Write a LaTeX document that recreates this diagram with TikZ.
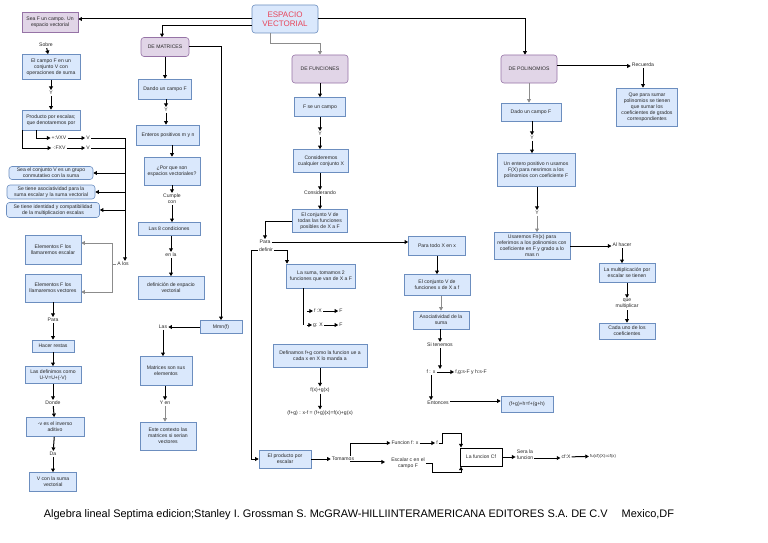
\documentclass[tikz,border=0pt]{standalone}
\usepackage{fontspec}
\setmainfont{Liberation Sans}
\usetikzlibrary{arrows.meta}
\definecolor{pfill}{HTML}{E1D5E7}
\definecolor{pdraw}{HTML}{9673A6}
\definecolor{bfill}{HTML}{DAE8FC}
\definecolor{bdraw}{HTML}{6C8EBF}
\definecolor{redt}{HTML}{E8455A}
\definecolor{glin}{HTML}{8C8C8C}
\begin{document}
\begin{tikzpicture}[x=1pt,y=-1pt,
 every node/.style={font=\fontsize{5.1}{6}\selectfont, inner sep=1pt, align=center, text=black!85},
 bb/.style 2 args={draw=bdraw, fill=bfill, line width=0.6pt, minimum width=#1, minimum height=#2},
 rb/.style 2 args={draw=bdraw, fill=bfill, line width=0.6pt, rounded corners=3pt, minimum width=#1, minimum height=#2},
 pb/.style 2 args={draw=pdraw, fill=pfill, line width=0.6pt, rounded corners=3pt, minimum width=#1, minimum height=#2},
 pr/.style 2 args={draw=pdraw, fill=pfill, line width=0.6pt, minimum width=#1, minimum height=#2},
 lbl/.style={inner sep=1pt},
 arr/.style={draw=black, line width=1pt, -{Triangle[length=3.6pt,width=3.8pt]}},
 garr/.style={draw=glin, line width=1pt, -{Triangle[length=3.6pt,width=3.8pt]}},
 ln/.style={draw=black, line width=1pt},
 gln/.style={draw=glin, line width=1pt}
]
\fill[white] (0,0) rectangle (768,543);
\useasboundingbox (0,0) rectangle (768,543);

% ---------- top ----------
\node[rb={66}{28}, font=\fontsize{8}{9}\selectfont, text=redt] (esp) at (285,19) {ESPACIO\\VECTORIAL};

% ---------- column 1 ----------
\node[pr={56}{20}] (seaF) at (50,22) {Sea F un campo. Un\\espacio vectorial};
\node[lbl] (sobre) at (46,45) {Sobre};
\node[bb={58}{25}] (campoF) at (51,67) {El campo F en un\\conjunto V con\\operaciones de suma};
\node[lbl] (y1) at (51,93) {Y};
\node[bb={58}{20}] (prod) at (51,120) {Producto por escalas;\\que denotaremos por};
\node[lbl] (vxv) at (59,138) {+:VXV};
\node[lbl] (v1) at (88,138) {V};
\node[lbl] (fxv) at (59,148) {·:FXV};
\node[lbl] (v2) at (88,148) {V};
\coordinate (j1) at (125,138);
\node[rb={84}{13}] (grupo) at (51,173) {Sea el conjunto V es un grupo\\conmutativo con la suma};
\node[rb={88}{14}] (asoc1) at (51,192) {Se tiene asociatividad para la\\suma escalar y la suma vectorial};
\node[rb={93}{15}] (ident) at (53,210) {Se tiene identidad y compatibilidad\\de la multiplicacion escalas};
\node[lbl] (alos) at (123,264) {A los};
\coordinate (k1) at (112,264);
\node[bb={56}{29}] (esc) at (53,250) {Elementos F los\\llamaremos escalar};
\node[bb={56}{28}] (vect) at (53,288) {Elementos F los\\llamaremos vectores};
\node[lbl] (para1) at (53,320) {Para};
\node[bb={42}{12}] (hacer) at (53,346) {Hacer restas};
\node[bb={56}{17}] (defin1) at (53,375) {Las definimos como\\U-V=U+(-V)};
\node[lbl] (donde) at (53,403) {Donde};
\node[bb={58}{19}] (inv) at (55,427) {-v es el inverso\\aditivo};
\node[lbl] (da) at (53,454) {Da};
\node[bb={47}{19}] (vcon) at (53,482) {V con la suma\\vectorial};

\draw[arr] (esp.west) -- (esp.west -| seaF.east);
\draw[arr] (sobre) -- (campoF);
\draw[arr] (campoF) -- (y1);
\draw[arr] (y1) -- (prod);
\draw[arr] ([xshift=-15]prod.south) |- (vxv.west);
\draw[arr] ([xshift=-29]prod.south) |- (fxv.west);
\draw[arr] (vxv) -- (v1);
\draw[arr] (fxv) -- (v2);
\draw[ln] (v1.east) -- (v1.east -| j1);
\draw[ln] (v2.east) -- (v2.east -| j1);
\draw[arr] (j1) -- (j1 |- alos.north);
\draw[arr] (grupo.east -| j1) -- (grupo.east);
\draw[arr] (asoc1.east -| j1) -- (asoc1.east);
\draw[arr] (ident.east -| j1) -- (ident.east);
\draw[gln] (alos.west) -- (k1);
\draw[garr] (k1) |- ([yshift=7]esc.east);
\draw[garr] (k1) |- ([yshift=-4]vect.east);
\draw[arr] (vect) -- (para1);
\draw[arr] (para1) -- (hacer);
\draw[arr] (hacer) -- (defin1);
\draw[arr] (defin1) -- (donde);
\draw[arr] (donde) -- (inv);
\draw[arr] (inv) -- (da);
\draw[arr] (da) -- (vcon);

% ---------- column 2 ----------
\node[pb={48}{19}] (mat) at (165,47) {DE MATRICES};
\node[bb={53}{20}] (dando) at (165,89) {Dando un campo F};
\node[lbl] (y2) at (166,110) {Y};
\node[bb={63}{20}] (ent) at (168,135) {Enteros positivos m y n};
\node[bb={56}{28}] (porque) at (172,171) {¿Por que son\\espacios vectoriales?};
\node[lbl] (cumple) at (172,199) {Cumple\\con};
\node[bb={62}{13}] (ocho) at (169,229) {Las 8 condiciones};
\node[lbl] (enla) at (171,255) {en la};
\node[bb={66}{23}] (defesp) at (171,288) {definición de espacio\\vectorial};
\node[bb={42}{13}] (mmn) at (221,327) {Mmn(f)};
\node[lbl] (las) at (163,327) {Las};
\node[bb={52}{29}] (matson) at (166,371) {Matrices son sus\\elementos};
\node[lbl] (yen) at (165,403) {Y en};
\node[bb={56}{28}] (este) at (168,436) {Este contexto las\\matrices si serian\\vectores};

\draw[arr] ([yshift=-7]esp.west) -| ([xshift=-3]mat.north);
\draw[arr] (mat) -- (dando);
\draw[arr] (dando.south -| y2) -- (y2);
\draw[arr] (y2) -- (y2 |- ent.north);
\draw[arr] (ent.south -| porque) -- (porque);
\draw[arr] (porque) -- (cumple);
\draw[arr] (cumple) -- (cumple |- ocho.north);
\draw[arr] (ocho.south -| enla) -- (enla);
\draw[arr] (enla) -- (enla |- defesp.north);
\draw[arr] (mat.east) -| (mmn.north);
\draw[arr] (mmn) -- (las);
\draw[arr] (las) -- (las |- matson.north);
\draw[arr] (matson.south -| yen) -- (yen);
\draw[garr] (yen) -- (yen |- este.north);

% ---------- column 3 ----------
\node[pb={56}{28}] (fun) at (320,69) {DE FUNCIONES};
\node[bb={51}{19}] (fse) at (320,107) {F se un campo};
\node[lbl] (y3) at (320,134) {Y};
\node[bb={55}{23}] (consid) at (321,161) {Consideremos\\cualquier conjunto X};
\node[lbl] (considerando) at (320,193) {Considerando};
\node[bb={55}{23}] (conjV) at (320,221) {El conjunto V de\\todas las funciones\\posibles de X a F};
\node[lbl] (para2) at (265,242) {Para};
\node[lbl] (definir) at (266,250) {definir};
\coordinate (c1) at (251,250);
\node[bb={69}{24}] (suma) at (321,276) {La suma, tomamos 2\\funciones que van de X a F};
\node[lbl] (fX) at (318,311) {f :X};
\node[lbl] (F1) at (341,311) {F};
\node[lbl] (gX) at (318,325) {g: X};
\node[lbl] (F2) at (341,325) {F};
\coordinate (sb) at (303,288);
\node[bb={94}{23}] (defin2) at (320,356) {Definamos f+g como la funcion ue a\\cada x en X lo manda a};
\node[lbl] (fxgx) at (320,390) {f(x)+g(x)};
\node[lbl] (fgx) at (320,413) {(f+g) : x-f = (f+g)(x)=f(x)+g(x)};
\node[bb={52}{18}] (prodesc) at (285,459) {El producto por\\escalar};
\node[lbl] (tomamos) at (343,459) {Tomamos};
\node[lbl] (funcf) at (405,443) {Funcion f: x};
\node[lbl] (fsym) at (437,443) {f};
\node[lbl] (escalar) at (408,463) {Escalar c en el\\campo F};
\node[draw=black, line width=1pt, fill=white, minimum width=42, minimum height=18] (cf) at (481,457) {La funcion Cf};
\node[lbl] (sera) at (525,455) {Sera la\\funcion};
\node[lbl] (cfx) at (566,457) {cf:X};
\node[lbl, font=\fontsize{4.2}{5}\selectfont] (fu) at (603,456) {fu(cf)(X)=cf(x)};
\coordinate (t1) at (442,433);
\coordinate (t2) at (432,472);

\draw[garr] ([xshift=-15]esp.south) -- ++(0,10) -| (fun.north);
\draw[arr] (fun) -- (fse);
\draw[arr] (fse.south -| y3) -- (y3);
\draw[arr] (y3) -- (y3 |- consid.north);
\draw[arr] (consid.south -| considerando) -- (considerando);
\draw[arr] (considerando) -- (considerando |- conjV.north);
\draw[arr] (conjV.west) -| (para2.north);
\draw[arr] (definir.east) -| ([xshift=-34]suma.north);
\draw[arr] (definir.west) -- (c1) |- (prodesc.west);
\draw[ln] (sb) -- (sb |- gX.west);
\draw[arr] (sb |- fX.west) ++(4,0) -- (fX.west);
\draw[arr] (sb |- gX.west) ++(4,0) -- (gX.west);
\draw[arr] (fX) -- (F1);
\draw[arr] (gX) -- (F2);
\draw[arr] (defin2.south -| fxgx) -- (fxgx);
\draw[arr] (fxgx) -- (fgx);
\draw[arr] (prodesc) -- (tomamos);
\draw[arr] ([xshift=-5]tomamos.north east) |- (funcf.west);
\draw[arr] ([xshift=-5]tomamos.south east) -- ([xshift=-5]tomamos.south east -| escalar.west);
\draw[arr] (funcf) -- (fsym);
\draw[arr] (fsym.east) -| (t1) -| ([xshift=-20]cf.north);
\draw[arr] (escalar.east) -| (t2) -| ([xshift=-20]cf.south);
\draw[arr] (cf.east) -- (cf.east -| sera.west);
\draw[arr] ([yshift=-3]sera.east) -- ([yshift=-3]sera.east -| cfx.west);
\draw[arr] (cfx) -- (fu);

% ---------- column 4 ----------
\node[bb={57}{19}] (paratodo) at (437,246) {Para todo X en x};
\node[bb={66}{21}] (conjV2) at (437,285) {El conjunto V de\\funciones x de X a f};
\node[bb={56}{18}] (asoc2) at (441,320) {Asociatividad de la\\suma};
\node[lbl] (sitenemos) at (440,345) {Si tenemos};
\node[lbl] (fx2) at (431,372) {f : x};
\node[lbl] (fgh) at (471,372) {f,g:s-F y h:s-F};
\node[lbl] (entonces) at (438,403) {Entonces};
\node[bb={52}{16}] (assoc) at (527,404) {(f+g)+h=f+(g+h)};

\draw[arr] (para2.east) -- (para2.east -| paratodo.west);
\draw[arr] (paratodo) -- (paratodo |- conjV2.north);
\draw[garr] (conjV2.south -| asoc2) -- (asoc2);
\draw[arr] (asoc2.south -| sitenemos) -- (sitenemos);
\draw[arr] (sitenemos) -- (sitenemos |- fx2.north);
\draw[arr] (fx2) -- (fgh);
\draw[arr] (fx2.south) -- (fx2.south |- entonces.north);
\draw[arr] ([yshift=2]entonces.east) -- ([yshift=2]entonces.east -| assoc.west);

% ---------- column 5 ----------
\node[pb={56}{28}] (pol) at (529,69) {DE POLINOMIOS};
\node[lbl] (recuerda) at (643,65) {Recuerda};
\node[bb={61}{38}] (qpara) at (647,107) {Que para sumar\\polinomios se tienen\\que sumar los\\coeficientes de grados\\correspondientes};
\node[bb={60}{18}] (dado) at (531,112) {Dado un campo F};
\node[lbl] (y4) at (532,138) {Y};
\node[bb={78}{33}] (entero) at (536,170) {Un entero positivo n usamos\\F(X) para nesrimos a los\\polinomios con coeficiente F};
\node[lbl] (y5) at (537,213) {Y};
\node[bb={76}{27}] (usar) at (532,246) {Usaremos Fn(x) para\\referirnos a los polinomios con\\coeficiente en F y grado a lo\\mas n};
\node[lbl] (alhacer) at (622,245) {Al hacer};
\node[bb={56}{19}] (mult) at (627,273) {La multiplicación por\\escalar se tienen};
\node[lbl] (quemult) at (627,304) {que\\multiplicar};
\node[bb={56}{16}] (cada) at (627,331) {Cada uno de los\\coeficientes};

\draw[arr] (esp.east) -| ([xshift=-4]pol.north);
\draw[arr] ([yshift=3]pol.east) -- ([yshift=3]pol.east -| recuerda.west);
\draw[arr] (recuerda) -- (recuerda |- qpara.north);
\draw[garr] (pol) -- (pol |- dado.north);
\draw[arr] (dado.south -| y4) -- (y4);
\draw[arr] (y4) -- (y4 |- entero.north);
\draw[arr] (entero.south -| y5) -- (y5);
\draw[garr] (y5) -- (y5 |- usar.north);
\draw[arr] (usar.east) -- (usar.east -| alhacer.west);
\draw[arr] (alhacer) -- (alhacer |- mult.north);
\draw[arr] (mult.south -| quemult) -- (quemult);
\draw[arr] (quemult) -- (quemult |- cada.north);

% ---------- reference ----------
\node[font=\fontsize{10.95}{12}\selectfont, text=black] (ref) at (359,515) {Algebra lineal Septima edicion;Stanley I. Grossman S. McGRAW-HILLIINTERAMERICANA EDITORES S.A. DE C.V\quad\ Mexico,DF};
\end{tikzpicture}
\end{document}
